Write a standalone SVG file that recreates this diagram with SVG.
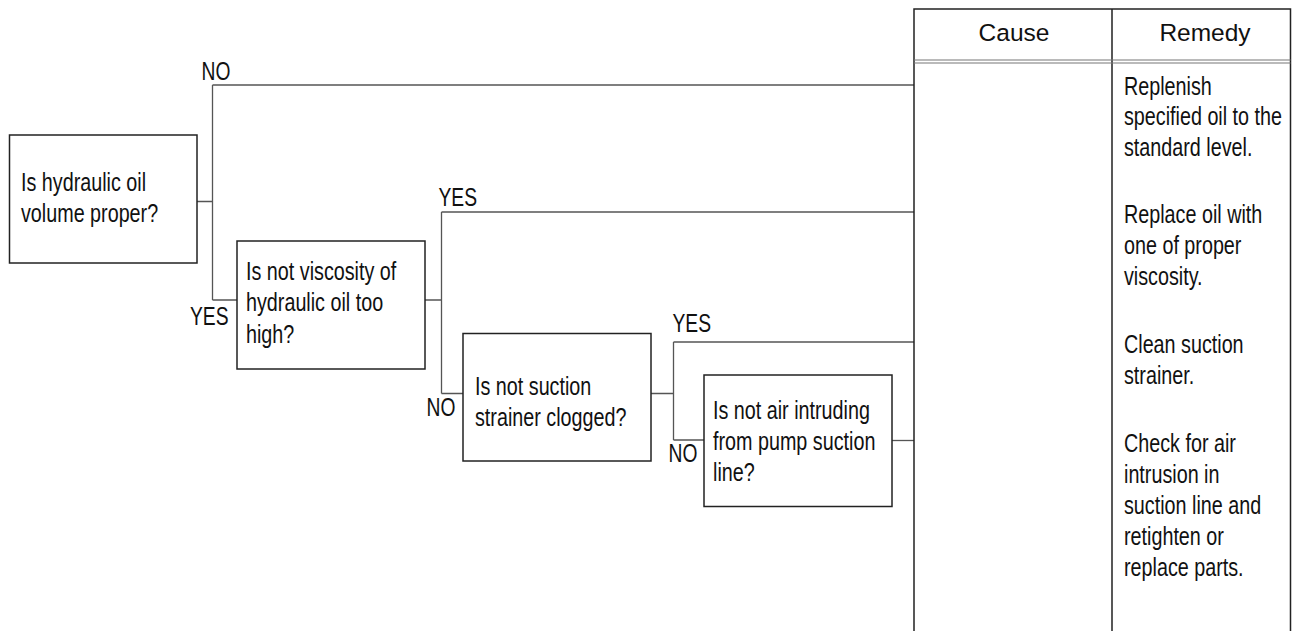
<svg xmlns="http://www.w3.org/2000/svg" width="1296" height="631" viewBox="0 0 1296 631">
<style>
.box{fill:#fff;stroke:#222;stroke-width:1.5}
.con{fill:none;stroke:#555;stroke-width:1.3}
.tbl{fill:none;stroke:#222;stroke-width:1.5}
.dbl{fill:none;stroke:#777;stroke-width:1.2}
text{font-family:"Liberation Sans",Arial,sans-serif;font-size:25px;fill:#111}
.hd{text-anchor:middle;font-size:24.5px}
</style>
<rect width="1296" height="631" fill="#fff"/>
<g id="connectors">
<path class="con" d="M197,201.5H212.5M212.5,85V300M212.5,85H914M212.5,300H237"/>
<path class="con" d="M425,300H441.5M441.5,212V393.5M441.5,212H914M441.5,393.5H463"/>
<path class="con" d="M651,393.5H673.5M673.5,342V440M673.5,342H914M673.5,440H704"/>
<path class="con" d="M892,440.5H914"/>
<text transform="translate(201.5,80) scale(0.77,1)">NO</text>
<text transform="translate(190,325) scale(0.77,1)">YES</text>
<text transform="translate(438.5,206) scale(0.77,1)">YES</text>
<text transform="translate(426.5,415.5) scale(0.77,1)">NO</text>
<text transform="translate(672.5,331.5) scale(0.77,1)">YES</text>
<text transform="translate(668.5,461.5) scale(0.77,1)">NO</text>
</g>
<g id="q1">
<rect class="box" x="9.5" y="135" width="187.5" height="128"/>
<text transform="translate(21,190.5) scale(0.79,1)"><tspan x="0" y="0">Is hydraulic oil</tspan><tspan x="0" y="32">volume proper?</tspan></text>
</g>
<g id="q2">
<rect class="box" x="237" y="241" width="188" height="128"/>
<text transform="translate(246,280) scale(0.79,1)"><tspan x="0" y="0">Is not viscosity of</tspan><tspan x="0" y="31.5">hydraulic oil too</tspan><tspan x="0" y="63">high?</tspan></text>
</g>
<g id="q3">
<rect class="box" x="463" y="333.5" width="188" height="127.5"/>
<text transform="translate(475,395) scale(0.79,1)"><tspan x="0" y="0">Is not suction</tspan><tspan x="0" y="31.5">strainer clogged?</tspan></text>
</g>
<g id="q4">
<rect class="box" x="704" y="375" width="188" height="131.5"/>
<text transform="translate(713,418.5) scale(0.79,1)"><tspan x="0" y="0">Is not air intruding</tspan><tspan x="0" y="31.5">from pump suction</tspan><tspan x="0" y="63">line?</tspan></text>
</g>
<g id="table">
<path class="tbl" d="M914,631V9H1290.5V631M1112,9V631"/>
<path class="dbl" d="M914,60H1290.5M914,63H1290.5"/>
<text class="hd" x="1014" y="41">Cause</text>
<text class="hd" x="1205" y="41">Remedy</text>
<text transform="translate(1124,95) scale(0.79,1)"><tspan x="0" y="0">Replenish</tspan><tspan x="0" y="30.5">specified oil to the</tspan><tspan x="0" y="61.5">standard level.</tspan></text>
<text transform="translate(1124,222.5) scale(0.79,1)"><tspan x="0" y="0">Replace oil with</tspan><tspan x="0" y="31.5">one of proper</tspan><tspan x="0" y="62.5">viscosity.</tspan></text>
<text transform="translate(1124,353) scale(0.79,1)"><tspan x="0" y="0">Clean suction</tspan><tspan x="0" y="31.5">strainer.</tspan></text>
<text transform="translate(1124,452) scale(0.79,1)"><tspan x="0" y="0">Check for air</tspan><tspan x="0" y="31">intrusion in</tspan><tspan x="0" y="62">suction line and</tspan><tspan x="0" y="93">retighten or</tspan><tspan x="0" y="124">replace parts.</tspan></text>
</g>
</svg>
